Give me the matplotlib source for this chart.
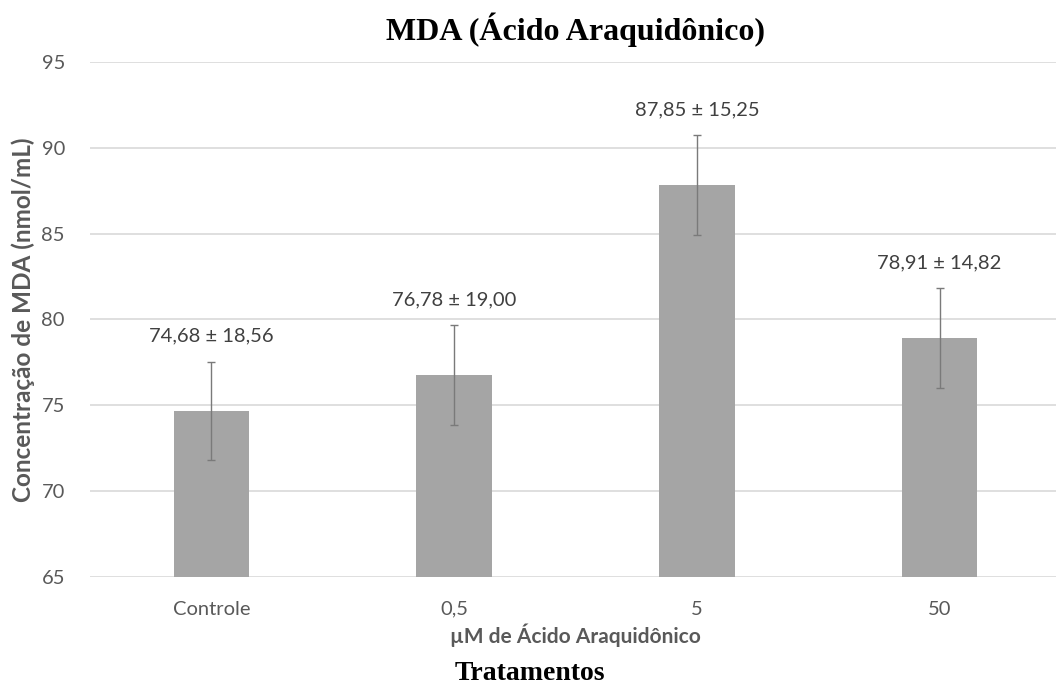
import numpy as np
from matplotlib import pyplot as plt

# %% data

categorias = ['Controle', '0,5', '5', '50']
media = [74.68, 76.78, 87.85, 78.91]
desvio = [18.56, 19.00, 15.25, 14.82]   # shown in the labels
erro_barra = [2.87, 2.90, 2.92, 2.90]   # drawn error bars
rotulos = ['74,68 ± 18,56', '76,78 ± 19,00', '87,85 ± 15,25', '78,91 ± 14,82']
yticks = [65, 70, 75, 80, 85, 90, 95]

# %% plot

plt.rcParams['font.family'] = ['Lato', 'DejaVu Sans']
cinza_txt = '#595959'

fig = plt.figure(figsize=(10.56, 6.85), dpi=100)
ax = fig.add_axes([90 / 1056, 108 / 685, 971 / 1056, 515 / 685])

x = np.arange(len(categorias))
ax.bar(x, np.array(media) - 65, bottom=65, width=0.31, color='#a5a5a5', zorder=2)
ax.errorbar(x, media, yerr=erro_barra, fmt='none', ecolor='#7a7a7a',
            elinewidth=1, capsize=3, capthick=1, zorder=3)

for xi, m, r in zip(x, media, rotulos):
    ax.annotate(r, (xi, m), xytext=(0, 54), textcoords='offset points',
                ha='center', va='center', fontsize=14.5, color='#404040')

ax.set_xlim(-0.5, len(categorias) - 0.5)
ax.set_ylim(65, 95)
ax.set_yticks(yticks)
ax.set_xticks(x)
ax.set_xticklabels(categorias)
ax.grid(axis='y', color='#d9d9d9', lw=1.2, zorder=0)
ax.set_axisbelow(True)
for s in ['top', 'right', 'left', 'bottom']:
    ax.spines[s].set_visible(False)
ax.tick_params(axis='both', length=0, labelsize=14.5, colors=cinza_txt)
ax.tick_params(axis='y', pad=18)
ax.tick_params(axis='x', pad=17)

ax.set_ylabel('Concentração de MDA (nmol/mL)', fontsize=17.5, fontweight='bold',
              color=cinza_txt)
ax.yaxis.set_label_coords((23 - 90) / 971, 0.5)
ax.yaxis.label.set_va('center')
ax.set_xlabel('µM de Ácido Araquidônico', fontsize=15, fontweight='bold',
              color=cinza_txt, labelpad=4)

fig.text(575 / 1056, 1 - 30 / 685, 'MDA (Ácido Araquidônico)', ha='center',
         va='center', fontsize=23, fontweight='bold', family='Liberation Serif')
fig.text(530 / 1056, 1 - 673 / 685, 'Tratamentos', ha='center', va='center',
         fontsize=20, fontweight='bold', family='Liberation Serif')

plt.savefig('out.png', dpi=100)
